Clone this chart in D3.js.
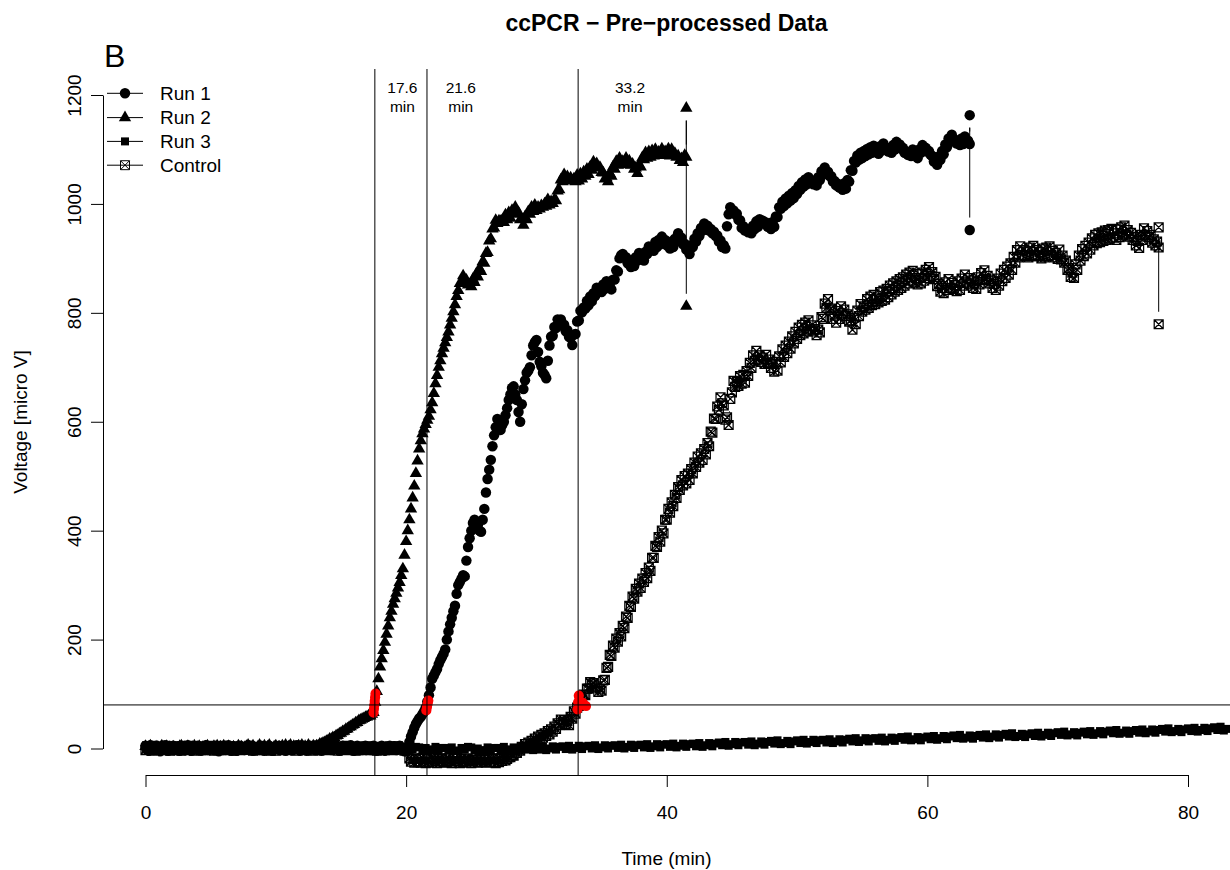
<!DOCTYPE html>
<html><head><meta charset="utf-8">
<script src="https://cdn.jsdelivr.net/npm/d3@7"></script>
<style>
body{margin:0;background:#fff}
svg{display:block;font-family:"Liberation Sans",Arial,Helvetica,sans-serif}
</style>
</head><body><svg id="chart" width="1230" height="870"></svg>
<script>
// ---------------- DATA ----------------
const sampleStep = 0.125;     // minutes between samples (Run 1, Run 2, Control)
const run3Step = 0.25;        // minutes between samples (Run 3)
const seriesNames = ["Run 1", "Run 2", "Run 3", "Control"];

// one line = one minute (8 samples)
const run1Values = [
  5,-2,-4,6,2,-3,1,4, -1,-5,3,0,6,2,-4,3, 0,5,-3,2,4,-4,5,-1, -3,3,6,1,-4,0,4,-2, 5,-1,-4,2,3,6,-3,1,
  -1,4,-3,5,1,-5,0,3, 3,-3,1,6,-1,-4,4,2, -4,2,5,-1,3,-3,1,6, 1,5,-4,0,3,2,-3,5, -1,-4,3,1,5,-1,-4,2,
  4,-1,5,-3,2,3,-4,0, 5,1,-3,3,-1,6,2,-4, 2,4,-1,-4,5,1,3,-1, -3,5,1,3,-4,0,5,2, 3,-1,-3,5,1,4,-1,-4,
  1,5,3,-2,0,3,6,1, -4,2,5,-1,3,-3,2,5, 3,-1,-3,4,5,1,-4,0, 2,5,-1,-4,3,1,5,-2, 0,4,-3,2,5,0,-3,-5,
  -5,3,12,22,30,38,45,50,
  55,58,63,68,75,86,98,112,
  128,134,140,146,155,162,168,174,
  182,200,215,228,240,252,262,284,
  300,306,312,318,316,345,370,386,
  400,414,420,412,410,400,398,420,
  440,470,495,512,530,555,575,590,
  605,594,585,594,600,612,625,640,
  650,662,665,650,640,618,600,632,
  660,676,690,694,700,722,740,746,
  750,728,710,702,690,686,680,712,
  740,756,758,774,772,788,786,788,
  776,778,766,768,756,754,741,760,
  761,784,786,804,801,810,808,822,
  814,830,821,836,831,846,841,844,
  838,852,844,858,846,849,843,861,
  861,878,876,900,906,908,901,902,
  891,890,884,897,886,902,896,910,
  901,902,896,912,908,922,916,919,
  914,930,921,934,926,940,931,934,
  924,927,918,931,921,936,931,946,
  936,938,926,927,916,918,908,924,
  921,936,931,946,941,956,951,964,
  958,960,951,954,946,949,941,942,
  931,933,921,924,918,959,981,994,
  986,988,981,982,971,970,956,959,
  951,954,948,951,946,960,954,968,
  958,972,966,969,964,966,958,961,
  954,967,958,977,976,994,991,1004,
  996,1010,1001,1015,1006,1020,1011,1025,
  1018,1033,1026,1040,1032,1045,1036,1049,
  1041,1043,1036,1039,1034,1049,1044,1060,
  1054,1067,1058,1059,1051,1051,1041,1042,
  1034,1037,1030,1033,1026,1038,1028,1044,
  1041,1062,1061,1079,1076,1089,1081,1094,
  1084,1097,1088,1101,1091,1104,1094,1107,
  1096,1099,1092,1106,1098,1111,1101,1103,
  1096,1100,1094,1108,1100,1114,1106,1109,
  1101,1103,1094,1096,1090,1093,1088,1100,
  1091,1093,1084,1100,1094,1108,1100,1103,
  1096,1097,1090,1088,1078,1078,1072,1087,
  1081,1097,1091,1109,1104,1120,1114,1127,
  1116,1118,1111,1113,1108,1120,1110,1124,
  1114,1116,1110
];
const run1Tail = [1163, 952];

const run2Values = [
  4,-2,1,5,-1,-4,2,3, -3,0,5,1,-3,4,-1,2, -4,3,1,-1,-3,4,5,0, 2,-3,4,-1,-4,2,5,1, -1,4,-3,2,-1,3,5,0,
  -3,1,4,1,5,-2,3,1, 5,2,-2,4,1,-3,3,-1, 1,5,-1,3,-3,2,4,6, 3,-1,5,1,-3,3,6,1, -1,5,1,3,6,0,-3,3,
  5,1,3,-1,5,2,6,0, 3,6,1,4,2,-1,5,3, 6,2,4,1,6,3,1,5,
  3,5,5,8,8,10,11,13,
  14,17,17,20,20,23,24,27,
  28,31,32,35,36,39,40,43,
  44,47,48,51,52,54,55,57,
  58,60,60,63,66,85,105,128,
  150,165,180,195,210,225,240,252,
  265,275,285,295,305,318,330,355,
  380,400,420,440,460,482,505,528,
  550,565,578,587,595,603,610,622,
  635,652,670,685,700,712,725,735,
  745,755,765,778,790,802,815,830,
  841,854,854,868,856,860,851,852,
  848,862,856,871,866,881,876,894,
  891,909,911,932,936,954,956,970,
  964,969,968,970,966,980,971,984,
  974,988,981,994,984,984,971,972,
  961,976,971,986,981,994,986,998,
  988,994,991,997,994,1000,996,1008,
  998,1004,1001,1008,1006,1024,1026,1044,
  1041,1054,1046,1050,1044,1048,1042,1046,
  1041,1053,1042,1055,1046,1059,1051,1064,
  1054,1068,1062,1077,1071,1074,1066,1067,
  1058,1057,1046,1048,1041,1056,1051,1068,
  1064,1078,1071,1084,1074,1078,1072,1084,
  1076,1079,1071,1073,1064,1066,1056,1072,
  1068,1085,1081,1094,1084,1096,1086,1098,
  1088,1100,1090,1095,1089,1101,1091,1096,
  1090,1101,1088,1100,1089,1093,1086,1088,
  1080,1083,1076,1089,1086
];
const run2Tail = [1176, 812];

// one line = one minute (4 samples)
const run3Values = [
  3,-2,4,-3, 1,-4,2,3, -3,4,0,-2, 4,-1,-4,2, -2,3,1,-4, 4,0,-3,3, -1,4,-3,1, 3,-3,2,-1, -4,2,4,0, 2,-3,-1,4,
  -2,3,-4,1, 4,-1,2,-3, 0,4,-3,2, -3,1,4,-2, 2,-4,1,3, -1,3,-3,4, 3,-2,1,-4, -2,4,0,-3, 4,-1,-4,2, 1,-3,3,-1,
  -3,2,-1,3, 2,-4,1,-2, -2,3,-3,1, 1,-3,2,-4, -4,1,-2,3, 2,-3,0,-4, -3,2,-4,1, 1,-4,3,-2, -2,2,-3,1, 3,-2,1,-3,
  3,-2,4,-3, 0,4,-2,3, 4,-1,5,-2, 1,5,-1,4, 5,0,6,-1, 2,6,0,5, 6,1,7,0, 3,7,1,6, 7,2,8,1, 4,8,2,7,
  8,3,9,2, 5,9,3,8, 9,4,10,3, 6,10,4,9, 11,6,12,5, 8,12,6,11, 12,7,13,6, 9,13,7,12, 14,9,15,8, 10,14,8,13,
  15,10,16,9, 12,16,10,15, 16,11,17,10, 13,17,11,16, 18,13,19,12, 15,19,13,18, 19,14,20,13, 16,20,14,19,
  21,16,22,15, 17,21,15,20, 22,17,23,16, 19,23,17,22, 24,19,25,18, 20,24,18,23, 25,20,26,19, 22,26,20,25,
  27,22,28,21, 23,27,21,26, 28,23,29,22, 25,29,23,28, 30,25,31,24, 26,30,24,29, 31,26,32,25, 28,32,26,31,
  33,28,34,27, 29,33,27,32, 34,29,35,28, 31,35,29,34, 36,31,37,30, 32,36,30,35, 37,32,38,31, 34,38,32,37,
  39,34,40,33, 36
];

const controlValues = [
  -3,4,0,2,-4,5,1,-1, -2,4,1,-3,5,0,3,-4, 2,-1,4,-3,0,2,-4,3, 1,-2,5,-3,2,0,-4,2, 4,-1,-3,3,1,-3,0,5,
  2,-1,-4,1,4,-3,0,2, 5,0,-3,3,-1,2,-4,1, 4,-1,-3,2,3,0,-2,1, -1,3,-4,2,0,2,-3,-1, 3,1,-3,0,2,-4,-1,2,
  -4,0,3,1,-3,4,-1,2, 2,-3,4,0,-4,2,5,0, -1,3,1,-3,2,-1,4,-4, 1,5,0,-3,3,1,-1,3, -3,2,4,-1,5,1,-4,0,
  3,-1,2,-3,5,3,-1,1, 0,-4,2,3,-1,-3,1,4, 2,-1,-3,3,1,-1,-4,2, -1,3,1,-3,0,2,4,-1, -3,2,0,4,-2,0,1,-4,
  -1,-4,-18,-24,-19,-26,-18,-25,
  -19,-26,-17,-24,-27,-19,-25,-17,
  -26,-20,-23,-27,-19,-24,-18,-26,
  -20,-25,-17,-23,-27,-19,-24,-18,
  -23,-27,-19,-25,-18,-26,-20,-23,
  -27,-21,-18,-24,-26,-19,-25,-18,
  -21,-26,-19,-17,-25,-18,-24,-27,
  -19,-25,-18,-23,-17,-22,-19,-16,
  -16,-12,-13,-6,-8,-2,-4,3,
  2,8,3,11,6,14,9,18,
  13,22,16,25,20,28,23,32,
  26,35,31,40,36,46,43,53,
  48,52,45,50,43,58,55,68,
  64,75,78,89,90,99,98,110,
  110,122,118,120,112,114,104,110,
  106,125,126,148,150,172,170,189,
  185,202,196,212,206,225,221,242,
  240,262,260,279,275,293,288,303,
  295,312,306,322,313,332,326,350,
  350,372,370,388,380,400,395,420,
  420,440,433,452,445,466,460,480,
  475,493,483,500,487,505,493,513,
  505,525,517,536,525,542,530,550,
  540,561,555,582,580,606,605,628,
  622,645,634,630,604,608,594,642,
  654,675,664,673,666,684,670,686,
  672,693,684,708,699,722,712,730,
  714,722,710,718,706,723,708,714,
  699,706,692,710,694,720,709,733,
  719,740,726,747,734,757,744,765,
  752,773,759,778,762,782,766,786,
  769,777,766,770,759,769,764,792,
  789,817,809,825,806,808,789,795,
  782,803,789,812,799,806,794,797,
  784,786,769,791,779,804,794,816,
  802,812,806,825,809,830,814,833,
  816,826,819,838,822,841,824,844,
  829,850,834,854,839,858,842,862,
  846,865,850,870,854,874,859,877,
  856,864,852,871,854,874,859,879,
  864,884,868,875,862,866,849,853,
  839,846,836,856,842,862,846,855,
  844,851,840,858,842,863,850,870,
  856,864,852,859,846,854,844,865,
  852,873,860,878,862,868,854,859,
  846,853,842,863,850,872,858,879,
  864,885,870,891,879,903,892,915,
  902,922,906,915,904,913,902,920,
  904,923,906,915,904,912,900,918,
  902,920,904,922,906,914,902,910,
  899,916,898,905,892,896,879,882,
  866,874,864,889,879,905,896,917,
  904,923,909,929,916,937,924,943,
  928,946,930,948,932,951,934,952,
  936,954,938,946,934,953,939,957,
  942,960,944,952,940,947,934,939,
  924,932,919,943,934,955,942,950,
  939,943,929,935,924,931,920
];
const controlTail = [957, 779];

// threshold crossing points (highlighted red)
const run2RedTimes = [17.5, 17.53, 17.56, 17.59, 17.62, 17.65];
const run2RedValues = [66, 73, 80, 87, 94, 101];
const run1RedTimes = [21.55, 21.6, 21.65, 21.7];
const run1RedValues = [70, 76, 82, 88];
const controlRedTimes = [33.15, 33.2, 33.25, 33.55, 33.8];
const controlRedValues = [72, 85, 97, 84, 78];

const ctTimes = [17.6, 21.6, 33.2];
const ctLabels = ["17.6", "21.6", "33.2"];
const thresholdValue = 80;

const xTicks = [0, 20, 40, 60, 80];
const yTicks = [0, 200, 400, 600, 800, 1000, 1200];

const titleText = "ccPCR \u2212 Pre\u2212processed Data";
const xTitle = "Time (min)";
const yTitle = "Voltage [micro V]";
const panelLabel = "B";

// ---------------- LAYOUT ----------------
const svg = d3.select("#chart");
const plot = {left: 103, right: 1230, top: 69, bottom: 775};
const x = d3.scaleLinear().domain([0, 80]).range([145.5, 1188]);
const y = d3.scaleLinear().domain([0, 1200]).range([748.5, 95]);
const baseFont = 19;

svg.append("defs").append("clipPath").attr("id", "plotclip")
  .append("rect").attr("x", plot.left).attr("y", plot.top)
  .attr("width", plot.right - plot.left).attr("height", plot.bottom - plot.top);

// symbols (R pch 16, 17, 15, 7)
const boxX = {
  draw(ctx, size) {
    const h = Math.sqrt(size) / 2;
    ctx.moveTo(-h, -h); ctx.lineTo(h, -h); ctx.lineTo(h, h); ctx.lineTo(-h, h); ctx.closePath();
    ctx.moveTo(-h, -h); ctx.lineTo(h, h);
    ctx.moveTo(h, -h); ctx.lineTo(-h, h);
  }
};
const symbols = {
  "Run 1": {path: d3.symbol(d3.symbolCircle, 86)(), fill: "#000", stroke: "none", sw: 1},
  "Run 2": {path: d3.symbol(d3.symbolTriangle, 66)(), fill: "#000", stroke: "none", sw: 1},
  "Run 3": {path: d3.symbol(d3.symbolSquare, 64)(), fill: "#000", stroke: "none", sw: 1},
  "Control": {path: d3.symbol(boxX, 80)(), fill: "none", stroke: "#000", sw: 1.25}
};

function buildSeries(values, step, tail) {
  const pts = values.map((v, i) => ({t: i * step, v}));
  const last = pts[pts.length - 1].t;
  (tail || []).forEach(v => pts.push({t: last, v}));
  return pts;
}
const series = [
  {name: "Run 1", pts: buildSeries(run1Values, sampleStep, run1Tail)},
  {name: "Run 2", pts: buildSeries(run2Values, sampleStep, run2Tail)},
  {name: "Run 3", pts: buildSeries(run3Values, run3Step, [])},
  {name: "Control", pts: buildSeries(controlValues, sampleStep, controlTail)}
];

// R type="b": segments with gaps around the points
const gap = 12.5;
function typeBPath(pts) {
  let d = "";
  for (let i = 1; i < pts.length; i++) {
    const x1 = x(pts[i-1].t), y1 = y(pts[i-1].v), x2 = x(pts[i].t), y2 = y(pts[i].v);
    const dx = x2 - x1, dy = y2 - y1, len = Math.hypot(dx, dy);
    if (len > 2 * gap) {
      const ux = dx / len, uy = dy / len;
      d += `M${x1 + ux*gap},${y1 + uy*gap}L${x2 - ux*gap},${y2 - uy*gap}`;
    }
  }
  return d;
}

const plotG = svg.append("g").attr("clip-path", "url(#plotclip)");
series.forEach(s => {
  const sym = symbols[s.name];
  const g = plotG.append("g");
  g.append("path").attr("d", typeBPath(s.pts)).attr("fill", "none").attr("stroke", "#000").attr("stroke-width", 1);
  g.selectAll("path.pt").data(s.pts).join("path").attr("class", "pt")
    .attr("transform", d => `translate(${x(d.t)},${y(d.v)})`)
    .attr("d", sym.path).attr("fill", sym.fill).attr("stroke", sym.stroke).attr("stroke-width", sym.sw);
});

// red threshold points
const redSets = [[run2RedTimes, run2RedValues], [run1RedTimes, run1RedValues], [controlRedTimes, controlRedValues]];
redSets.forEach(([ts, vs]) => {
  plotG.append("g").selectAll("circle").data(ts.map((t, i) => ({t, v: vs[i]}))).join("circle")
    .attr("cx", d => x(d.t)).attr("cy", d => y(d.v)).attr("r", 5.1).attr("fill", "#ff0000");
});

// threshold line and Ct lines
plotG.append("line").attr("x1", plot.left).attr("x2", plot.right)
  .attr("y1", y(thresholdValue)).attr("y2", y(thresholdValue)).attr("stroke", "#000").attr("stroke-width", 1);
plotG.selectAll("line.ct").data(ctTimes).join("line").attr("class", "ct")
  .attr("x1", d => x(d)).attr("x2", d => x(d)).attr("y1", plot.top).attr("y2", plot.bottom)
  .attr("stroke", "#000").attr("stroke-width", 1);

// Ct labels
const ctLabelFactor = 1.12;
const ctG = svg.append("g").attr("font-size", 15.5).attr("text-anchor", "middle").attr("fill", "#000");
ctTimes.forEach((t, i) => {
  ctG.append("text").attr("x", x(t * ctLabelFactor)).attr("y", 93).text(ctLabels[i]);
  ctG.append("text").attr("x", x(t * ctLabelFactor)).attr("y", 112).text("min");
});

// axes
const xAxisG = svg.append("g").attr("transform", `translate(0,${plot.bottom})`)
  .call(d3.axisBottom(x).tickValues(xTicks).tickSize(12).tickSizeOuter(0).tickPadding(18.3).tickFormat(d3.format("d")));
xAxisG.attr("font-family", null);
xAxisG.selectAll("text").attr("font-size", baseFont).attr("fill", "#000");

const yAxisG = svg.append("g").attr("transform", `translate(${plot.left},0)`)
  .call(d3.axisLeft(y).tickValues(yTicks).tickSize(12).tickSizeOuter(0).tickFormat(d3.format("d")));
yAxisG.attr("font-family", null);
yAxisG.selectAll(".tick text")
  .attr("x", null).attr("text-anchor", "middle")
  .attr("transform", "translate(-29.2,0) rotate(-90)").attr("dy", "0.36em")
  .attr("font-size", baseFont).attr("fill", "#000");
svg.selectAll(".domain, .tick line").attr("stroke", "#000").attr("stroke-width", 1);

// titles
const midX = (plot.left + plot.right) / 2;
svg.append("text").attr("x", midX).attr("y", 31).attr("text-anchor", "middle")
  .attr("font-size", 23).attr("font-weight", "bold").text(titleText);
svg.append("text").attr("x", midX).attr("y", 865).attr("text-anchor", "middle")
  .attr("font-size", baseFont).text(xTitle);
svg.append("text").attr("transform", `translate(27,${(plot.top + plot.bottom) / 2}) rotate(-90)`)
  .attr("text-anchor", "middle").attr("font-size", baseFont).text(yTitle);
svg.append("text").attr("x", 104).attr("y", 67).attr("font-size", 32).text(panelLabel);

// legend
const legendRows = [93.3, 117.6, 141.4, 165.2];
const legG = svg.append("g");
seriesNames.forEach((name, i) => {
  const yy = legendRows[i];
  const sym = symbols[name];
  legG.append("line").attr("x1", 107).attr("x2", 143).attr("y1", yy).attr("y2", yy).attr("stroke", "#000");
  legG.append("path").attr("transform", `translate(125,${yy})`).attr("d", sym.path)
    .attr("fill", sym.fill).attr("stroke", sym.stroke).attr("stroke-width", 1);
  legG.append("text").attr("x", 160).attr("y", yy).attr("dy", "0.36em").attr("font-size", baseFont).text(name);
});
</script>
</body></html>
